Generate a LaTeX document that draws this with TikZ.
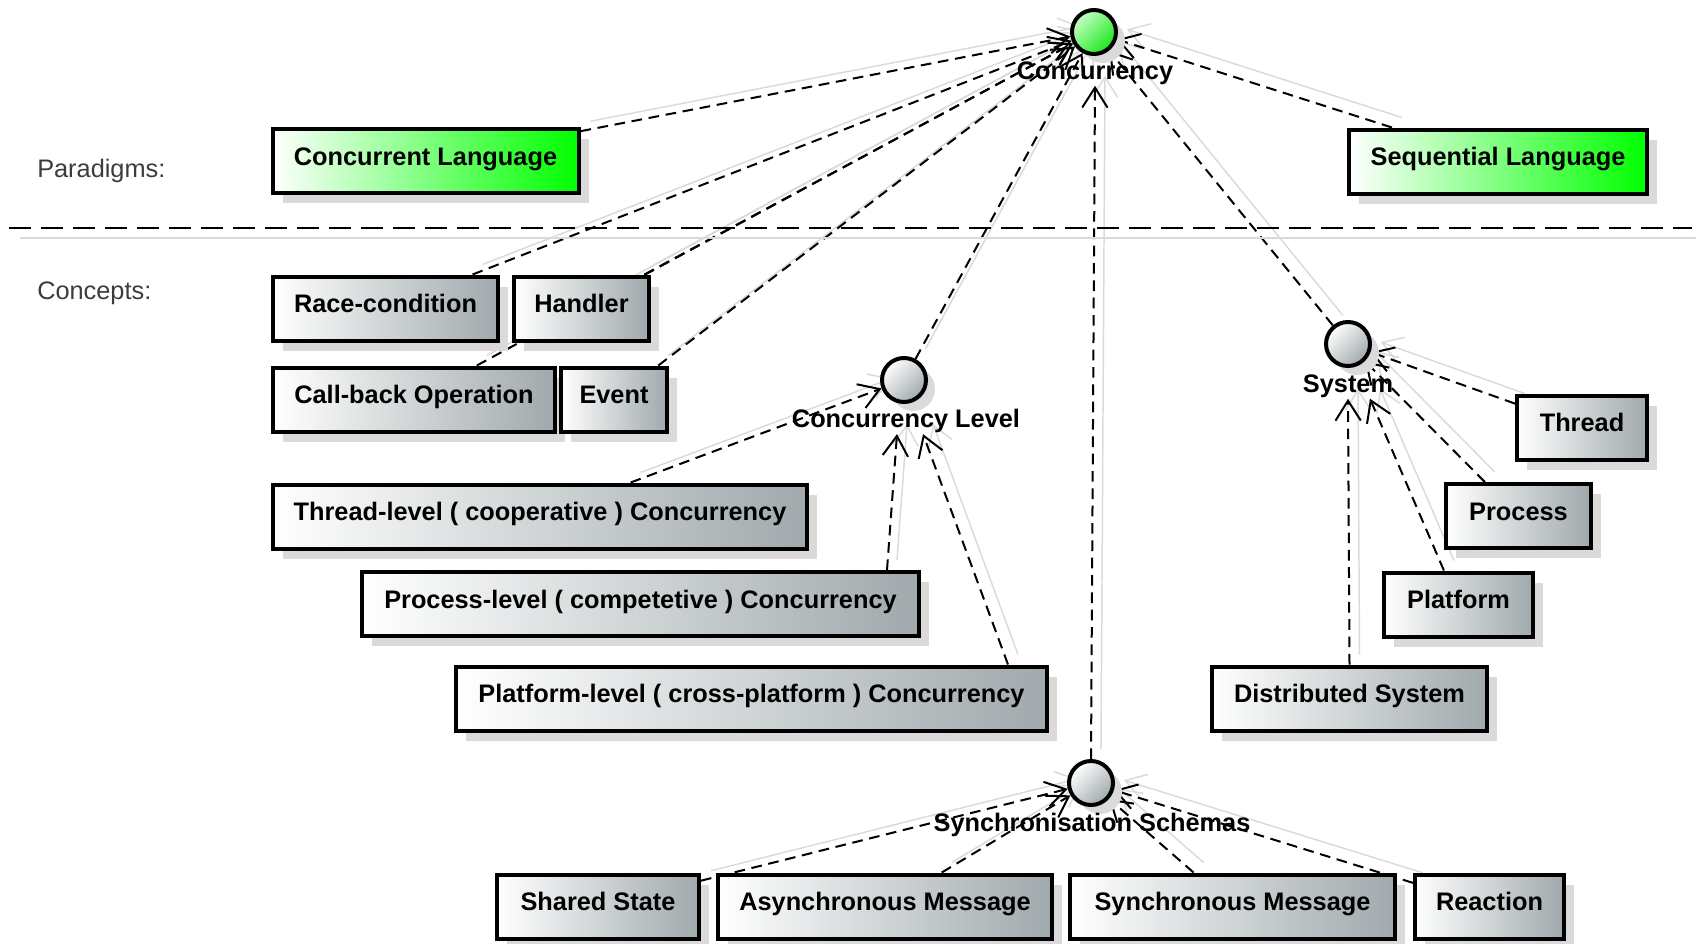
\documentclass[tikz,border=0pt]{standalone}
\usepackage{fontspec}
\setmainfont{Liberation Sans}
\usepackage{tikz}
\usetikzlibrary{arrows.meta,calc,shadows,backgrounds}

\definecolor{boxgray}{RGB}{160,169,172}
\definecolor{boxgreen}{RGB}{0,255,0}
\definecolor{shadowgray}{RGB}{218,218,218}
\definecolor{ballgreenA}{RGB}{200,255,200}
\definecolor{ballgreenB}{RGB}{25,232,25}
\definecolor{lanegray}{RGB}{60,60,60}

\tikzset{
  concept/.style={draw, line width=3pt, inner sep=0pt, minimum height=48pt,
    text height=12.5pt, text depth=6pt,
    left color=white, right color=boxgray,
    font=\bfseries\fontsize{19}{22}\selectfont,
    drop shadow={shadow xshift=7.5pt, shadow yshift=-7.5pt, fill=shadowgray, opacity=1}},
  paradigm/.style={concept, right color=boxgreen},
  ball/.style={circle, draw, line width=3pt, inner sep=0pt, minimum size=33pt,
    top color=white, bottom color=boxgray, shading angle=45,
    drop shadow={shadow xshift=6.75pt, shadow yshift=-6.75pt, fill=shadowgray, opacity=1}},
  greenball/.style={ball, top color=ballgreenA, bottom color=ballgreenB, shading angle=45},
  balllabel/.style={inner sep=0.75pt, font=\bfseries\fontsize{19}{22}\selectfont},
  lanelabel/.style={anchor=west, inner sep=0.75pt, text=lanegray, font=\fontsize{19}{22}\selectfont},
  dep/.style={dash pattern=on 8pt off 5pt, line width=1.5pt,
    -{Straight Barb[length=15pt,width=19pt]}},
  depshadow/.style={draw=shadowgray, line width=1.1pt,
    -{Straight Barb[length=15pt,width=19pt]}},
}

\begin{document}
\begin{tikzpicture}[x=0.75pt,y=0.75pt,yscale=-1,xscale=1]
\useasboundingbox (0,0) rectangle (1696,943);

%Straight Lines [lane separator]
\draw [color=shadowgray, line width=1.5pt] (20,238) -- (1696,238) ;
\draw [dash pattern=on 16.5pt off 7.5pt, line width=1.5pt] (9,228) -- (1692,228) ;

% Text Node
\draw (36,171) node [lanelabel] (parLbl) {Paradigms:};
% Text Node
\draw (36,293) node [lanelabel] (conLbl) {Concepts:};

%Shape: Circle
\draw (1094,32) node [greenball] (conc) {};
\draw (1095,73) node [balllabel] (concLbl) {Concurrency};
%Shape: Circle
\draw (904,380) node [ball] (clv) {};
\draw (906,421) node [balllabel] (clvLbl) {Concurrency Level};
%Shape: Circle
\draw (1348,344) node [ball] (sys) {};
\draw (1348,386) node [balllabel] (sysLbl) {System};
%Shape: Circle
\draw (1091,783) node [ball] (sync) {};
\draw (1092,825) node [balllabel] (syncLbl) {Synchronisation Schemas};

%Shape: Rectangle
\draw (425.5,161) node [paradigm, minimum width=229.5pt] (cl) {Concurrent Language};
\draw (1498,161.5) node [paradigm, minimum width=223.5pt] (sl) {Sequential Language};

%Shape: Rectangle
\draw (385.5,308.5) node [concept, minimum width=168.75pt] (rc) {Race-condition};
\draw (581.5,308.5) node [concept, minimum width=101.25pt] (hd) {Handler};
\draw (414,399.5) node [concept, minimum width=211.5pt] (cb) {Call-back Operation};
\draw (614,399.5) node [concept, minimum width=79.5pt] (ev) {Event};
\draw (540,516.5) node [concept, minimum width=400.5pt] (tl) {Thread-level ( cooperative ) Concurrency};
\draw (640.5,604) node [concept, minimum width=417.75pt] (pc) {Process-level ( competetive ) Concurrency};
\draw (751.5,698.5) node [concept, minimum width=443.25pt] (pf) {Platform-level ( cross-platform ) Concurrency};

%Shape: Rectangle
\draw (1582,427.5) node [concept, minimum width=97.5pt] (th) {Thread};
\draw (1518.5,516) node [concept, minimum width=108.75pt] (pr) {Process};
\draw (1458.5,604.5) node [concept, minimum width=111.75pt] (pt) {Platform};
\draw (1349.5,698.5) node [concept, minimum width=206.25pt] (ds) {Distributed System};

%Shape: Rectangle
\draw (598,906.5) node [concept, minimum width=151.5pt] (ss) {Shared State};
\draw (885,906.5) node [concept, minimum width=250.5pt] (am) {Asynchronous Message};
\draw (1232.5,906.5) node [concept, minimum width=243.75pt] (sm) {Synchronous Message};
\draw (1489.5,906.5) node [concept, minimum width=111.75pt] (re) {Reaction};

% free ends
\coordinate (pcOut) at ($(pc.north east)+(-34,0)$);
\coordinate (clvInA) at ($(clvLbl.south)+(-9,0)$);
\coordinate (pfOut) at ($(pf.north east)+(-41,0)$);
\coordinate (clvInB) at ($(clvLbl.south)+(17,0)$);
\coordinate (sysInA) at ($(sysLbl.south)+(22,0)$);

\def\deplist{cl/conc, sl/conc, rc/conc, hd/conc, cb/conc, ev/conc, clv/conc, sys/conc,
  sync.north/concLbl.south, tl/clv, pcOut/clvInA, pfOut/clvInB,
  th/sys, pr/sys, pt/sysInA, ds.north/sysLbl.south,
  ss/sync, am/sync, sm/sync, re/sync}

%Straight Lines [dependencies]
\begin{pgfonlayer}{background}
\begin{scope}[transform canvas={shift={(10,10)}}]
\foreach \src/\dst in \deplist
  \draw [depshadow] (\src) -- (\dst) ;
\end{scope}
\foreach \src/\dst in \deplist
  \draw [dep] (\src) -- (\dst) ;
\end{pgfonlayer}
\end{tikzpicture}
\end{document}
